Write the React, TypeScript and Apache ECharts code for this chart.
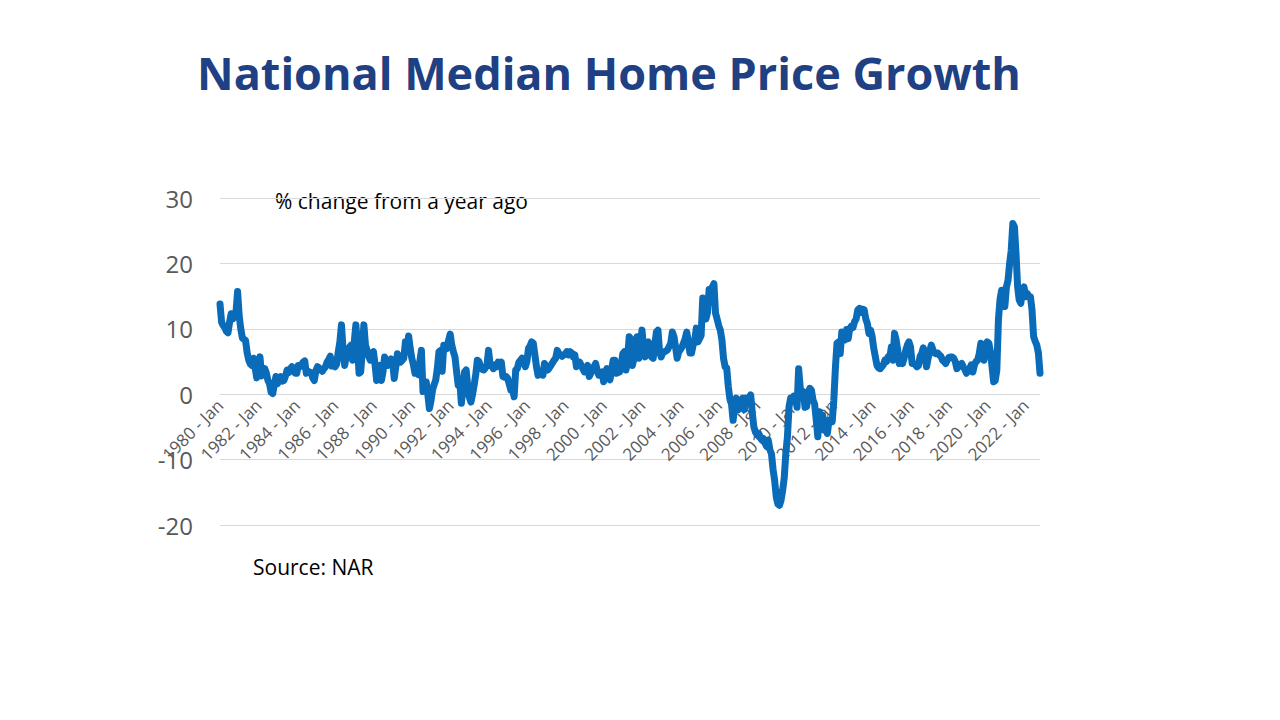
import React, { useEffect, useRef } from "react";
import * as echarts from "echarts";

// Year-over-year % change in national median existing-home price (monthly)
const y1980 = [13.8, 11.0, 10.5, 10.2, 9.6, 9.4, 11.0, 12.3, 11.5, 11.9, 12.5, 15.7];
const y1981 = [12.0, 10.0, 8.6, 8.4, 8.2, 6.3, 5.2, 4.6, 4.4, 5.5, 4.0, 2.5];
const y1982 = [4.5, 5.7, 2.8, 3.0, 3.9, 3.2, 2.1, 1.6, 0.3, 0.1, 1.5, 2.7];
const y1983 = [1.6, 2.2, 2.7, 2.0, 2.1, 2.8, 3.7, 3.3, 3.9, 4.2, 4.0, 3.2];
const y1984 = [3.2, 4.4, 4.2, 4.5, 4.9, 5.1, 3.2, 3.5, 3.4, 3.3, 2.5, 2.1];
const y1985 = [3.6, 4.2, 4.0, 3.7, 3.5, 3.9, 4.2, 4.9, 5.3, 5.8, 4.3, 4.4];
const y1986 = [4.2, 4.6, 6.5, 8.0, 10.6, 6.8, 4.4, 5.8, 6.5, 7.2, 7.5, 5.2];
const y1987 = [8.0, 10.6, 7.5, 3.2, 3.4, 6.5, 10.6, 7.5, 6.7, 5.8, 5.2, 6.3];
const y1988 = [6.5, 4.5, 2.1, 3.6, 4.4, 2.1, 3.5, 5.7, 4.9, 4.4, 5.0, 5.4];
const y1989 = [5.0, 2.4, 4.2, 6.2, 5.5, 4.9, 5.2, 5.5, 8.0, 6.7, 8.9, 7.0];
const y1990 = [5.5, 4.5, 3.2, 3.5, 3.0, 5.0, 6.7, 0.4, 1.0, 1.9, 0.0, -2.2];
const y1991 = [-1.0, 0.7, 1.5, 2.2, 4.0, 6.5, 6.7, 3.5, 7.5, 7.2, 7.0, 8.2];
const y1992 = [9.2, 7.5, 6.5, 5.7, 3.5, 1.4, 2.0, -1.4, 1.0, 3.4, 3.7, 1.2];
const y1993 = [-0.5, -1.2, 0.0, 1.4, 3.0, 5.2, 5.0, 4.2, 3.8, 3.7, 4.0, 4.4];
const y1994 = [6.7, 4.4, 4.5, 3.9, 4.5, 4.2, 4.9, 4.6, 4.9, 2.7, 2.6, 2.7];
const y1995 = [2.4, 1.5, 0.6, 0.8, -0.4, 3.7, 3.9, 4.9, 5.2, 5.5, 5.0, 4.2];
const y1996 = [5.0, 7.0, 7.4, 8.0, 7.8, 6.0, 4.2, 2.9, 3.5, 3.0, 2.9, 4.7];
const y1997 = [4.3, 3.7, 4.0, 4.4, 4.8, 5.2, 5.5, 6.7, 6.2, 6.0, 5.8, 6.0];
const y1998 = [6.2, 6.5, 6.0, 6.5, 6.3, 5.7, 6.0, 4.2, 4.6, 4.9, 4.4, 3.9];
const y1999 = [3.4, 3.8, 4.4, 2.7, 3.2, 3.7, 4.2, 4.7, 3.6, 2.9, 3.2, 3.4];
const y2000 = [1.9, 3.0, 3.9, 3.0, 2.2, 3.8, 5.2, 5.2, 3.2, 3.3, 3.4, 4.5];
const y2001 = [6.2, 6.5, 3.7, 5.5, 8.8, 8.5, 4.4, 5.5, 6.5, 8.8, 5.5, 7.5];
const y2002 = [9.8, 7.0, 5.7, 7.0, 8.0, 6.8, 5.7, 5.5, 7.5, 9.5, 9.8, 6.5];
const y2003 = [5.7, 6.3, 6.5, 6.6, 6.8, 7.3, 7.8, 9.5, 8.8, 7.2, 5.5, 6.5];
const y2004 = [6.8, 7.2, 7.8, 8.5, 9.5, 8.0, 6.3, 6.3, 7.5, 8.3, 10.1, 8.0];
const y2005 = [8.5, 9.0, 14.7, 14.4, 11.5, 12.5, 16.0, 15.5, 16.4, 16.9, 12.4, 11.5];
const y2006 = [10.5, 9.8, 8.3, 5.5, 4.2, 4.0, 1.2, -0.8, -1.5, -4.0, -1.9, -0.6];
const y2007 = [-2.4, -0.9, -1.0, -0.6, -2.4, -0.6, -0.8, -0.6, -0.1, -2.9, -5.0, -5.8];
const y2008 = [-6.2, -6.0, -6.5, -7.0, -6.8, -7.5, -8.0, -7.0, -8.5, -9.1, -11.5, -13.2];
const y2009 = [-15.7, -16.8, -17.0, -16.2, -14.7, -12.8, -9.0, -6.5, -1.9, -0.6, -1.0, -0.3];
const y2010 = [-0.4, -2.0, 3.9, 1.0, -0.4, 0.4, -2.0, -1.9, 0.2, 0.9, 0.6, -0.9];
const y2011 = [-1.5, -3.9, -6.5, -2.7, -4.5, -3.2, -5.5, -4.5, -6.0, -4.0, -3.9, -4.2];
const y2012 = [-1.0, 4.0, 7.8, 8.0, 6.2, 9.5, 8.8, 8.3, 9.9, 8.5, 10.0, 10.4];
const y2013 = [10.2, 11.1, 11.5, 12.9, 13.1, 12.5, 13.0, 12.9, 11.5, 10.8, 9.3, 9.8];
const y2014 = [8.8, 7.0, 5.7, 4.4, 4.0, 3.9, 4.2, 4.5, 5.2, 5.0, 5.7, 5.5];
const y2015 = [7.2, 5.2, 9.3, 8.3, 6.7, 4.7, 4.9, 4.7, 5.5, 6.7, 7.5, 8.0];
const y2016 = [7.2, 4.7, 4.7, 4.5, 4.2, 4.4, 5.8, 6.2, 7.1, 6.0, 4.2, 5.5];
const y2017 = [6.5, 7.5, 6.8, 6.3, 6.2, 6.3, 6.0, 5.8, 5.2, 5.0, 4.7, 5.2];
const y2018 = [5.6, 5.7, 5.7, 5.5, 5.0, 3.9, 4.2, 4.5, 4.7, 4.2, 3.8, 3.2];
const y2019 = [3.6, 3.9, 4.5, 3.4, 4.5, 5.0, 5.2, 6.2, 7.8, 6.5, 5.2, 7.5];
const y2020 = [8.0, 7.8, 6.5, 4.2, 1.9, 2.1, 3.7, 11.4, 14.5, 15.9, 15.9, 13.4];
const y2021 = [16.4, 17.4, 20.0, 22.0, 26.1, 25.6, 21.5, 16.4, 14.4, 13.9, 15.9, 16.4];
const y2022 = [14.9, 15.4, 15.0, 14.9, 12.9, 8.8, 8.1, 7.5, 6.3, 3.2];

const growth = [
  ...y1980, ...y1981, ...y1982, ...y1983, ...y1984, ...y1985, ...y1986, ...y1987,
  ...y1988, ...y1989, ...y1990, ...y1991, ...y1992, ...y1993, ...y1994, ...y1995,
  ...y1996, ...y1997, ...y1998, ...y1999, ...y2000, ...y2001, ...y2002, ...y2003,
  ...y2004, ...y2005, ...y2006, ...y2007, ...y2008, ...y2009, ...y2010, ...y2011,
  ...y2012, ...y2013, ...y2014, ...y2015, ...y2016, ...y2017, ...y2018, ...y2019,
  ...y2020, ...y2021, ...y2022,
];

const START_YEAR = 1980;
const MONTHS = ["Jan", "Feb", "Mar", "Apr", "May", "Jun", "Jul", "Aug", "Sep", "Oct", "Nov", "Dec"];
const categories = growth.map(
  (_, i) => `${START_YEAR + Math.floor(i / 12)} - ${MONTHS[i % 12]}`
);

const Y_MIN = -20;
const Y_MAX = 30;
const Y_STEP = 10;

const TITLE = "National Median Home Price Growth";
const SUBTITLE = "% change from a year ago";
const SOURCE = "Source: NAR";

export default function App() {
  const ref = useRef<HTMLDivElement>(null);

  useEffect(() => {
    if (!ref.current) return;
    const chart = echarts.init(ref.current, null, { renderer: "svg" });
    const font = "'Open Sans', sans-serif";
    const gridTop = 198;
    const gridBottom = 195;
    const plotH = 720 - gridTop - gridBottom;
    // shift the category axis up from the grid's bottom edge to the y = 0 line
    const zeroOffset = -(plotH * (0 - Y_MIN)) / (Y_MAX - Y_MIN);
    chart.setOption({
      animation: false,
      backgroundColor: "#ffffff",
      grid: { left: 220, right: 240, top: gridTop, bottom: gridBottom, containLabel: false },
      graphic: [
        {
          type: "text",
          x: 609,
          y: 72,
          style: {
            text: TITLE,
            fill: "#1f4082",
            font: `700 45px ${font}`,
            textAlign: "center",
            textVerticalAlign: "middle",
          },
        },
        {
          type: "text",
          x: 275,
          y: 201,
          style: {
            text: SUBTITLE,
            fill: "#000000",
            font: `21px ${font}`,
            textAlign: "left",
            textVerticalAlign: "middle",
          },
        },
        {
          type: "text",
          x: 253,
          y: 567,
          style: {
            text: SOURCE,
            fill: "#000000",
            font: `21px ${font}`,
            textAlign: "left",
            textVerticalAlign: "middle",
          },
        },
      ],
      xAxis: {
        type: "category",
        data: categories,
        boundaryGap: false,
        offset: zeroOffset,
        z: 1,
        axisLine: { show: true, onZero: false, lineStyle: { color: "#d9d9d9", width: 1 } },
        axisTick: { show: false },
        axisLabel: {
          interval: 23,
          rotate: 45,
          color: "#595959",
          fontFamily: font,
          fontSize: 17,
          margin: 8,
        },
        splitLine: { show: false },
      },
      yAxis: {
        type: "value",
        min: Y_MIN,
        max: Y_MAX,
        interval: Y_STEP,
        z: 0,
        axisLine: { show: false },
        axisTick: { show: false },
        axisLabel: {
          color: "#595959",
          fontFamily: font,
          fontSize: 24,
          margin: 27,
        },
        splitLine: { lineStyle: { color: "#d9d9d9", width: 1 } },
      },
      series: [
        {
          type: "line",
          data: growth,
          showSymbol: false,
          symbol: "none",
          z: 10,
          lineStyle: { color: "#0a6bb8", width: 7, join: "round", cap: "round" },
          itemStyle: { color: "#0a6bb8" },
        },
      ],
    });
    return () => chart.dispose();
  }, []);

  return (
    <div
      ref={ref}
      style={{ position: "fixed", left: 0, top: 0, width: 1280, height: 720, background: "#fff" }}
    />
  );
}
